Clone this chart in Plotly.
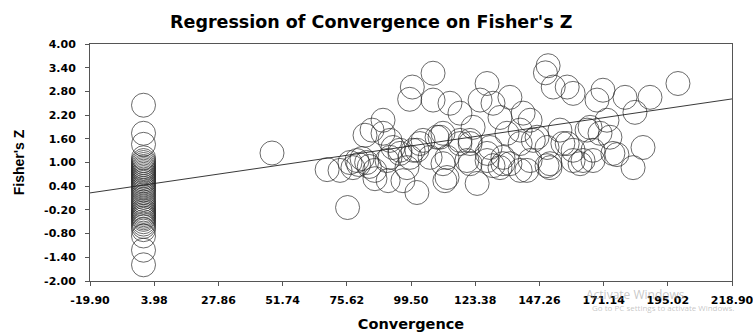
import plotly.graph_objects as go

# ---- data ----
col_x = [0.0] * 44
col_y = [2.45, 1.74, 1.46, 1.12, 1.05, 1.00, 0.95, 0.90, 0.86, 0.82, 0.78,
         0.74, 0.70, 0.66, 0.62, 0.58, 0.54, 0.50, 0.45, 0.40, 0.35, 0.30,
         0.24, 0.18, 0.12, 0.06, 0.00, -0.05, -0.10, -0.15, -0.20, -0.24,
         -0.28, -0.32, -0.36, -0.40, -0.44, -0.50, -0.56, -0.62, -0.70,
         -0.86, -1.22, -1.59]

cloud_x = [47.8, 75.9, 68.3, 73.1, 76.8, 79.4, 81.3, 77.9, 82.4, 85.0, 89.1,
           89.1, 86.1, 92.8, 91.0, 96.5, 101.7, 100.0, 99.0, 95.4, 99.1, 98.0,
           91.7, 107.7, 107.7, 114.0, 117.7, 122.6, 127.8, 125.2, 130.0, 136.3,
           132.6, 141.2, 143.8, 150.5, 149.5, 152.4, 157.6, 159.8, 135.2, 140.1,
           146.4, 154.9, 156.0, 150.1, 159.8, 151.2, 143.8, 136.3, 133.7, 127.8,
           128.9, 121.5, 117.7, 111.4, 109.2, 104.0, 101.7, 106.6, 112.9, 120.3,
           112.9, 124.1, 132.6, 140.1, 151.2, 170.9, 168.7, 179.1, 188.4, 198.8,
           182.8, 166.1, 172.4, 173.5, 159.8, 163.5, 176.1, 185.8, 182.1, 167.2,
           95.4, 100.3, 90.6, 91.7, 110.3, 102.8, 117.7, 111.4, 121.5, 121.5,
           127.8, 133.7, 140.1, 145.0, 130.0, 142.6, 150.1, 162.4, 167.2, 174.6,
           157.6, 169.8, 165.0, 112.1, 80.0, 83.0, 84.0, 86.0]
cloud_y = [1.24, -0.14, 0.82, 0.80, 1.00, 1.05, 1.10, 0.87, 1.69, 1.82, 2.07,
           1.74, 0.59, 1.38, 0.54, 0.54, 0.24, 2.91, 2.60, 1.23, 1.13, 0.87,
           1.13, 3.26, 2.58, 2.50, 2.25, 1.89, 3.00, 2.58, 2.50, 2.65,
           2.14, 2.25, 2.07, 3.45, 3.27, 2.91, 2.91, 2.75, 1.74, 1.82,
           1.64, 1.82, 1.48, 1.38, 1.05, 0.97, 1.05, 0.97, 0.97, 1.05,
           1.38, 1.48, 1.56, 1.74, 1.64, 1.56, 1.31, 1.13, 1.13, 1.05,
           0.62, 0.47, 0.87, 0.80, 0.87, 2.83, 2.58, 2.65, 2.65, 3.00,
           2.27, 1.89, 2.07, 1.64, 1.31, 1.05, 1.20, 1.38, 0.87, 1.31,
           1.31, 1.31, 1.05, 1.56, 1.64, 1.48, 1.48, 0.97, 0.97, 1.56,
           1.23, 1.13, 1.48, 1.56, 0.92, 0.80, 0.92, 0.97, 1.05, 1.23,
           1.48, 1.74, 1.82, 0.54, 0.95, 1.00, 0.90, 0.80]

fit_x = [-19.90, 218.90]
fit_y = [0.23, 2.61]

x_ticks = [-19.90, 3.98, 27.86, 51.74, 75.62, 99.50, 123.38, 147.26, 171.14, 195.02, 218.90]
y_ticks = [4.00, 3.40, 2.80, 2.20, 1.60, 1.00, 0.40, -0.20, -0.80, -1.40, -2.00]

marker_style = dict(symbol="circle-open", size=24, color="#2a2a2a",
                    line=dict(width=0.7, color="#2a2a2a"))

fig = go.Figure()
fig.add_trace(go.Scatter(x=col_x + cloud_x, y=col_y + cloud_y, mode="markers",
                         marker=marker_style, showlegend=False, cliponaxis=True))
fig.add_trace(go.Scatter(x=fit_x, y=fit_y, mode="lines",
                         line=dict(color="#222222", width=0.9), showlegend=False))

wide = "DejaVu Sans, Verdana, sans-serif"
narrow = "Liberation Sans, Arial, sans-serif"
wm_color = "rgba(150,150,150,0.55)"

fig.update_layout(
    width=753, height=332,
    margin=dict(l=90, r=21, t=44, b=51, autoexpand=False),
    paper_bgcolor="white", plot_bgcolor="white",
    font=dict(family=wide, color="black"),
    title=dict(text="<b>Regression of Convergence on Fisher's Z</b>",
               x=0.493, xanchor="center", xref="container",
               y=0.935, yanchor="middle",
               font=dict(size=17.5, family=wide, color="black")),
    xaxis=dict(range=[-19.9, 218.9], tickvals=x_ticks,
               ticktext=["%.2f" % v for v in x_ticks],
               tickfont=dict(size=11, family=wide, weight="bold", color="black"),
               ticks="outside", ticklen=4, tickcolor="#555",
               ticklabelstandoff=5, ticklabeloverflow="allow",
               showline=True, linecolor="#555", linewidth=1, mirror=True,
               showgrid=False, zeroline=False, automargin=False,
               title=dict(text="<b>Convergence</b>",
                          font=dict(size=14.5, family=wide, color="black"),
                          standoff=13)),
    yaxis=dict(range=[-2, 4], tickvals=y_ticks,
               ticktext=["%.2f" % v for v in y_ticks],
               tickfont=dict(size=11, family=wide, weight="bold", color="black"),
               ticks="outside", ticklen=4, tickcolor="#555",
               ticklabelstandoff=7, ticklabeloverflow="allow",
               showline=True, linecolor="#555", linewidth=1, mirror=True,
               showgrid=False, zeroline=False, automargin=False,
               title=dict(text="<b>Fisher's Z</b>",
                          font=dict(size=14, family=narrow, color="black"),
                          standoff=16)),
    annotations=[
        dict(text="Activate Windows", xref="paper", yref="paper",
             x=0.849, y=-0.059, xanchor="center", yanchor="middle", showarrow=False,
             font=dict(size=12, family="Open Sans, sans-serif", color=wm_color)),
        dict(text="Go to PC settings to activate Windows.", xref="paper", yref="paper",
             x=0.893, y=-0.11, xanchor="center", yanchor="middle", showarrow=False,
             font=dict(size=8, family="Open Sans, sans-serif", color=wm_color)),
    ],
)

fig.write_html("out.html", config={"displayModeBar": False},
               post_script="document.body.style.margin='0';")
